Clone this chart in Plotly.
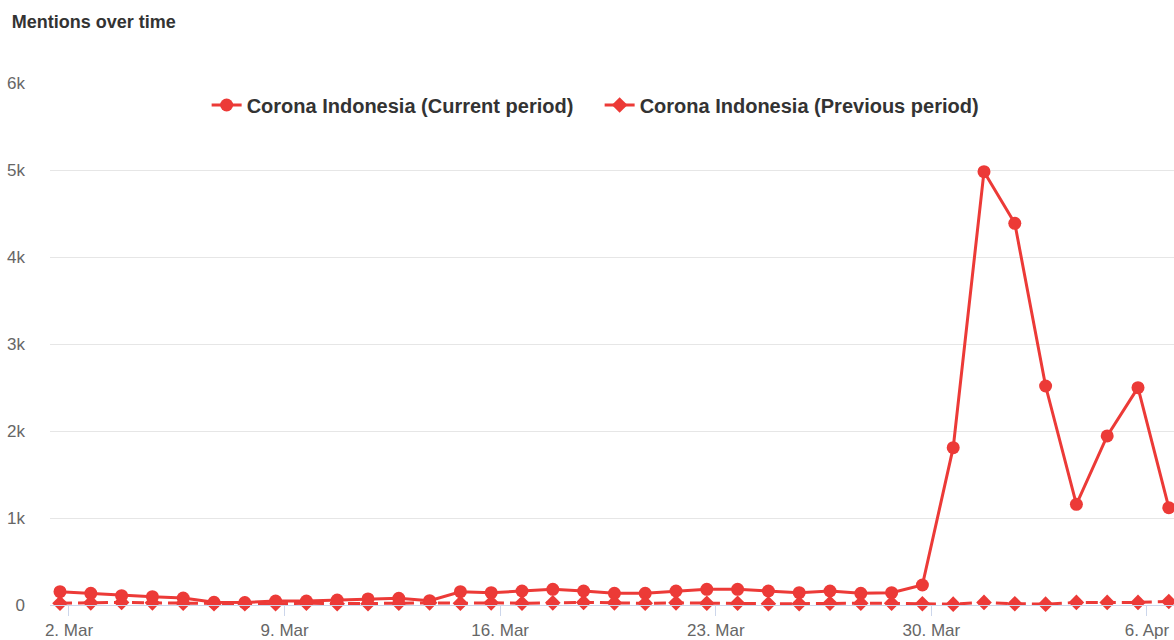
import pandas as pd
import plotly.graph_objects as go

# Daily mention counts, 2 Mar – 7 Apr 2020 (local dates, UTC+7)
dates = pd.date_range("2020-03-02", "2020-04-07", freq="D")
current_period = [153, 134, 107, 96, 80, 31, 28, 46, 46, 57, 70, 77,
                  50, 153, 142, 161, 180, 161, 134, 134, 161, 180, 180,
                  161, 142, 161, 134, 142, 230, 1808, 4981, 4387, 2517,
                  1157, 1943, 2498, 1119]
previous_period = [20, 25, 30, 25, 20, 15, 15, 15, 20, 15, 15, 20, 25,
                   20, 25, 20, 25, 30, 25, 20, 25, 20, 20, 15, 15, 20,
                   20, 20, 15, 10, 30, 15, 10, 30, 30, 30, 40]
y_ticks = [0, 1000, 2000, 3000, 4000, 5000, 6000]
y_tick_text = ["0", "1k", "2k", "3k", "4k", "5k", "6k"]

# points sit at local midnight (UTC+7); the date axis ticks at UTC midnight
x_vals = dates - pd.Timedelta(hours=7)

RED = "#ec3a37"
TEXT = "#333333"
LABEL = "#666666"
FONT = "Liberation Sans, Arial, sans-serif"

fig = go.Figure()
fig.add_trace(go.Scatter(
    x=x_vals, y=current_period, mode="lines+markers",
    name="Corona Indonesia (Current period)",
    line=dict(color=RED, width=3),
    marker=dict(symbol="circle", size=13, color=RED),
    cliponaxis=False,
))
fig.add_trace(go.Scatter(
    x=x_vals, y=previous_period, mode="lines+markers",
    name="Corona Indonesia (Previous period)",
    line=dict(color=RED, width=3, dash="12px,6px"),
    marker=dict(symbol="diamond", size=12, color=RED),
    cliponaxis=False,
))

px_per_day = 30.8
plot_w = 1124
start = x_vals[0] - pd.Timedelta(days=10 / px_per_day)
end = start + pd.Timedelta(days=plot_w / px_per_day)

fig.update_layout(
    width=1174, height=640,
    margin=dict(l=50, r=0, t=83, b=35),
    paper_bgcolor="white", plot_bgcolor="white",
    font=dict(family=FONT, color=LABEL, size=17),
    title=dict(text="<b>Mentions over time</b>", x=0.01, xanchor="left",
               y=1 - 22 / 640, yanchor="middle",
               font=dict(size=18, color=TEXT, family=FONT)),
    showlegend=True,
    legend=dict(orientation="h", x=0.489, xanchor="center",
                y=(605 - 105) / 522, yanchor="middle",
                font=dict(size=20, color=TEXT, family=FONT, weight="bold"),
                bgcolor="rgba(0,0,0,0)", itemwidth=30, entrywidth=348),
    hovermode="x unified",
)
fig.update_xaxes(
    type="date", range=[start, end],
    tick0="2020-03-02", dtick=7 * 86400000, tickformat="%-d. %b",
    showgrid=False, showline=True, linecolor="#ccd6eb", linewidth=1,
    ticks="outside", ticklen=10, tickcolor="#ccd6eb",
    tickfont=dict(size=17, color=LABEL), zeroline=False,
)
fig.update_yaxes(
    range=[0, 6000], tickvals=y_ticks, ticktext=y_tick_text,
    showgrid=True, gridcolor="#e6e6e6", gridwidth=1, zeroline=False,
    showline=False, ticks="", ticklabelstandoff=24,
    tickfont=dict(size=17, color=LABEL),
)

fig.write_html("out.html")
